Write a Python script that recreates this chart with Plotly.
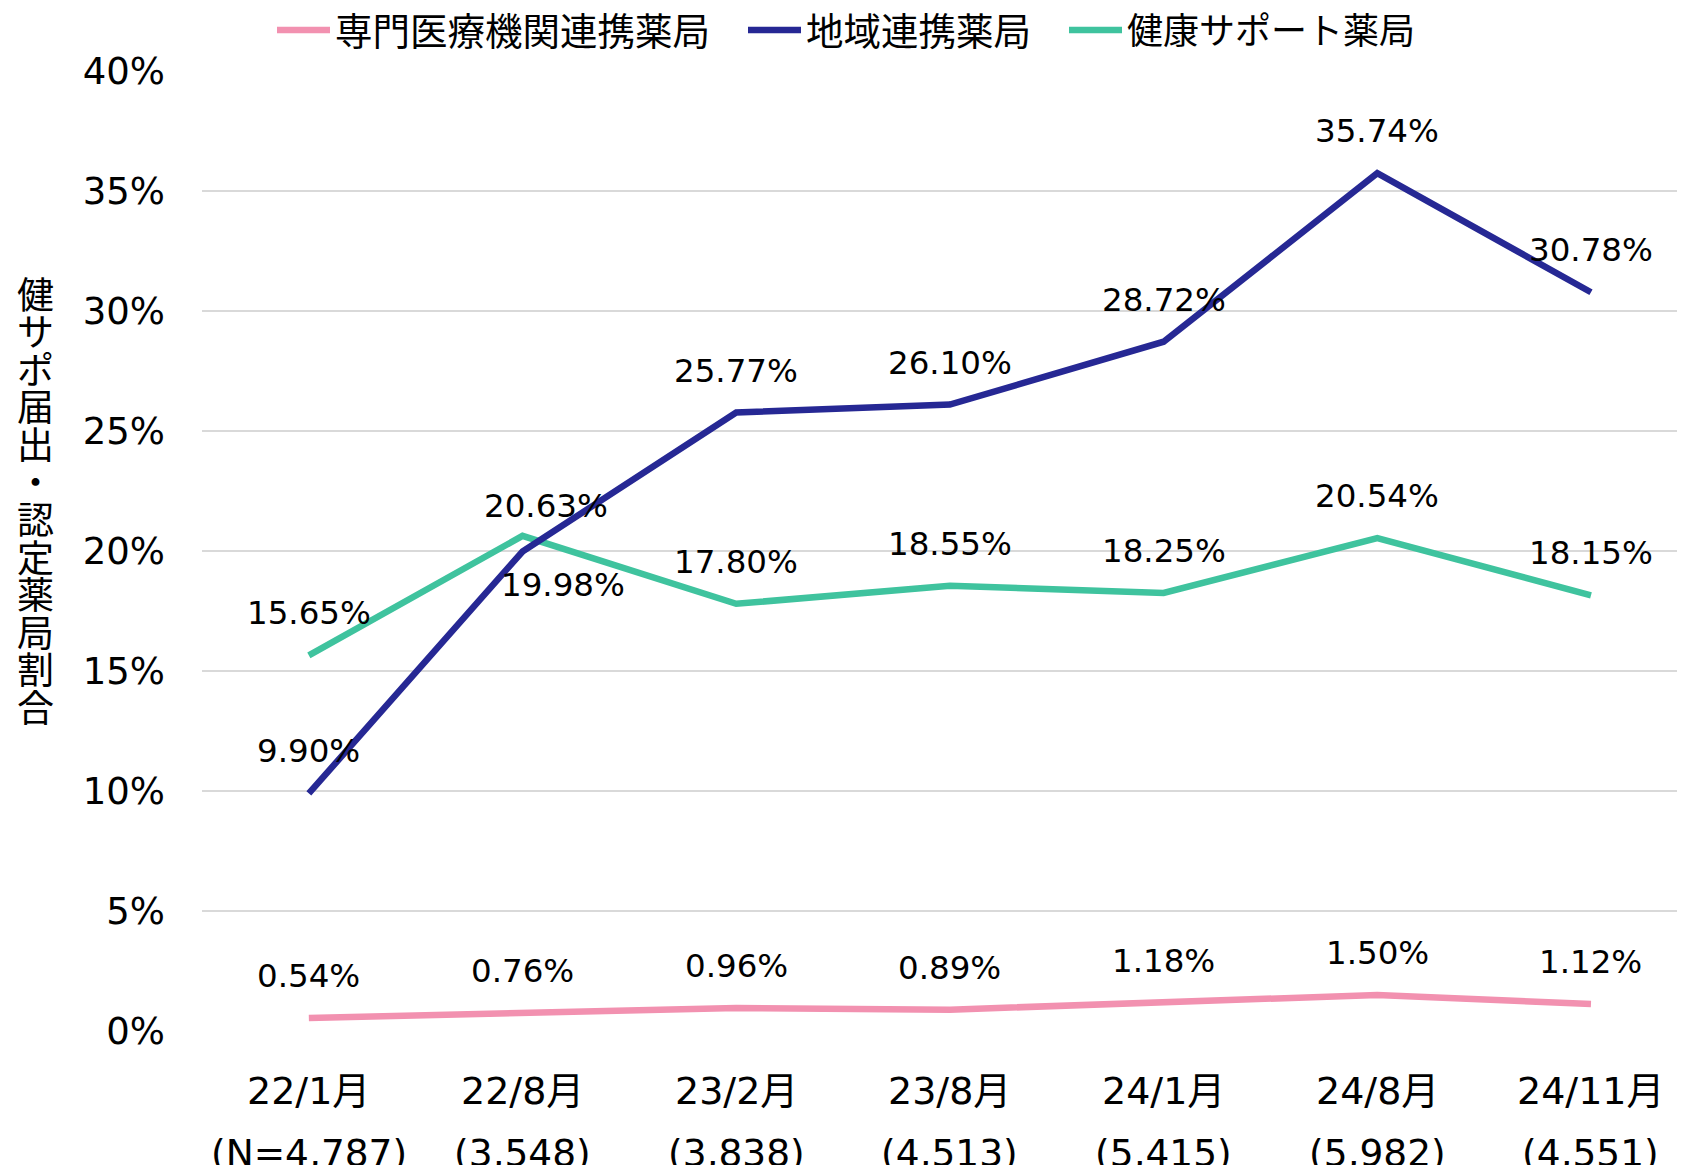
import plotly.graph_objects as go

categories = ["22/1月", "22/8月", "23/2月", "23/8月", "24/1月", "24/8月", "24/11月"]
sample_sizes = ["(N=4,787)", "(3,548)", "(3,838)", "(4,513)", "(5,415)", "(5,982)", "(4,551)"]

senmon = [0.54, 0.76, 0.96, 0.89, 1.18, 1.50, 1.12]
chiiki = [9.90, 19.98, 25.77, 26.10, 28.72, 35.74, 30.78]
kenko = [15.65, 20.63, 17.80, 18.55, 18.25, 20.54, 18.15]

series_names = ["専門医療機関連携薬局", "地域連携薬局", "健康サポート薬局"]
y_title = "健サポ届出・認定薬局割合"
y_tick_values = [0, 5, 10, 15, 20, 25, 30, 35, 40]
y_tick_labels = ["0%", "5%", "10%", "15%", "20%", "25%", "30%", "35%", "40%"]

PINK = "#F291B0"
NAVY = "#262894"
TEAL = "#3FC39E"

# page has an 8px body margin; figure coordinates = page coordinates - 8
W, H = 1677, 1157
ML, MR, MT, MB = 194, 0, 63, 134

LATIN = "DejaVu Sans, Noto Sans CJK JP, sans-serif"
CJK = "Noto Sans CJK JP, DejaVu Sans, sans-serif"

fig = go.Figure()

# draw order: pink, teal, navy (navy on top); each in its own legend
fig.add_trace(go.Scatter(x=categories, y=senmon, mode="lines", name=series_names[0],
                         line=dict(color=PINK, width=6.5), legend="legend"))
fig.add_trace(go.Scatter(x=categories, y=kenko, mode="lines", name=series_names[2],
                         line=dict(color=TEAL, width=6.5), legend="legend3"))
fig.add_trace(go.Scatter(x=categories, y=chiiki, mode="lines", name=series_names[1],
                         line=dict(color=NAVY, width=6.5), legend="legend2"))

annotations = []

# data labels
default_shift = (0, 42)
special = {
    ("chiiki", 1): (40, -34),
    ("kenko", 1): (23, 30),
}
for key, vals in (("senmon", senmon), ("kenko", kenko), ("chiiki", chiiki)):
    for i, (c, v) in enumerate(zip(categories, vals)):
        xs, ys = special.get((key, i), default_shift)
        annotations.append(dict(x=c, y=v, xref="x", yref="y", text=f"{v:.2f}%",
                                showarrow=False, xshift=xs, yshift=ys,
                                xanchor="center", yanchor="middle",
                                font=dict(family=LATIN, size=32.5, color="#000000")))

# x category labels (two lines)
for c, n in zip(categories, sample_sizes):
    annotations.append(dict(x=c, y=0, xref="x", yref="paper", text=c, showarrow=False,
                            yshift=-60, xanchor="center", yanchor="middle",
                            font=dict(family=LATIN, size=38, color="#000000")))
    annotations.append(dict(x=c, y=0, xref="x", yref="paper", text=n, showarrow=False,
                            yshift=-122, xanchor="center", yanchor="middle",
                            font=dict(family=LATIN, size=37.5, color="#000000")))

# vertical stacked y-axis title
plot_h = H - MT - MB
first_center = 285
pitch = 37.5
for i, ch in enumerate(y_title):
    ypx = first_center + pitch * i
    annotations.append(dict(x=0, y=(H - MB - ypx) / plot_h, xref="paper", yref="paper",
                            text=ch, showarrow=False, xshift=27 - ML,
                            xanchor="center", yanchor="middle",
                            font=dict(family=CJK, size=37, color="#000000")))

legend_common = dict(orientation="h", xref="container", yref="container",
                     yanchor="middle", xanchor="left", bgcolor="rgba(0,0,0,0)",
                     itemwidth=53, borderwidth=0)
leg_y = 1 - 22 / H

fig.update_layout(
    width=W, height=H,
    margin=dict(l=ML, r=MR, t=MT, b=MB, pad=0, autoexpand=False),
    paper_bgcolor="white", plot_bgcolor="white",
    showlegend=True,
    legend=dict(x=264 / W, y=leg_y, font=dict(family=CJK, size=37.5, color="#000000"),
                **legend_common),
    legend2=dict(x=735 / W, y=leg_y, font=dict(family=CJK, size=37.5, color="#000000"),
                 **legend_common),
    legend3=dict(x=1056 / W, y=leg_y, font=dict(family=CJK, size=36, color="#000000"),
                 **legend_common),
    xaxis=dict(type="category", range=[-0.5, 6.44], showticklabels=False,
               showgrid=False, zeroline=False, showline=False, ticks="",
               automargin=False),
    yaxis=dict(range=[0, 40], tickmode="array", tickvals=y_tick_values,
               ticktext=y_tick_labels,
               showgrid=True, gridcolor="#D9D9D9", gridwidth=2,
               zeroline=False, showline=False, ticks="",
               ticklabelstandoff=36, automargin=False,
               tickfont=dict(family=LATIN, size=37, color="#000000")),
    annotations=annotations,
)

fig.write_html("out.html")
